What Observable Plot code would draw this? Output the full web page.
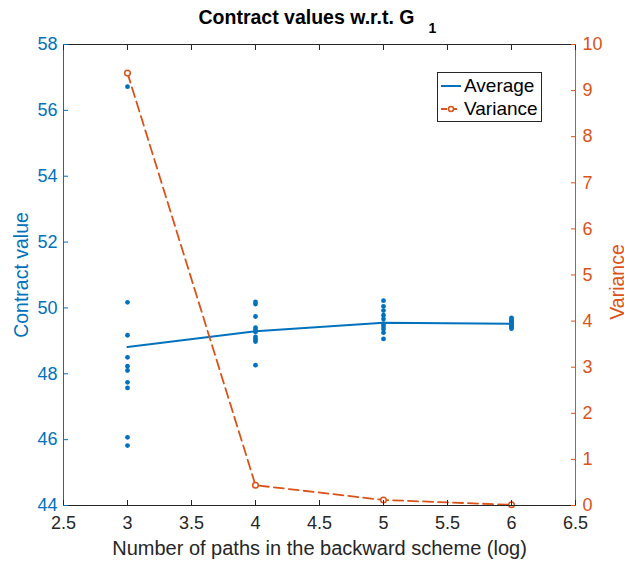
<!DOCTYPE html>
<html>
<head>
<meta charset="utf-8">
<script src="https://cdn.jsdelivr.net/npm/d3@7"></script>
<script src="https://cdn.jsdelivr.net/npm/@observablehq/plot@0.6"></script>
<style>
  body { margin: 0; background: #fff; }
  #chart { position: relative; width: 624px; height: 562px; font-family: "Liberation Sans", Arial, sans-serif; }
  #legend { position: absolute; left: 437px; top: 72px; width: 105px; height: 50px; border: 1px solid #262626; background: #fff; box-sizing: border-box; }
  #legend .row { position: absolute; left: 0; height: 22px; display: flex; align-items: center; font-size: 19px; color: #000; }
  #legend svg { display: block; margin-left: 3px; margin-right: 3px; }
</style>
</head>
<body>
<div id="chart"></div>
<script>
// Number of paths (log scale) at which the backward scheme was run
const paths = [3, 4, 5, 6];

// Individual contract values obtained at each number of paths
const valuesAt3 = [56.72, 50.17, 49.17, 48.50, 48.23, 48.10, 47.74, 47.57, 46.07, 45.82];
const valuesAt4 = [50.18, 50.12, 49.74, 49.40, 49.33, 49.27, 49.12, 49.05, 48.98, 48.26];
const valuesAt5 = [50.22, 50.05, 49.92, 49.78, 49.66, 49.52, 49.45, 49.36, 49.25, 49.06];
const valuesAt6 = [49.70, 49.66, 49.62, 49.58, 49.54, 49.51, 49.48, 49.45, 49.41, 49.37];

// Summary statistics per number of paths
const averages = [48.81, 49.29, 49.55, 49.52];
const variances = [9.38, 0.44, 0.12, 0.015];

// Tick values
const xTicks = [2.5, 3, 3.5, 4, 4.5, 5, 5.5, 6, 6.5];
const leftTicks = [44, 46, 48, 50, 52, 54, 56, 58];
const rightTicks = [0, 1, 2, 3, 4, 5, 6, 7, 8, 9, 10];

const BLUE = "#0072BD";
const ORANGE = "#D95319";
const INK = "#262626";
const FONT = "'Liberation Sans', Arial, sans-serif";

// The variance axis (0..10) shares the vertical extent of the contract axis (44..58)
const yMin = 44, yMax = 58, vMax = 10;
const varToY = v => yMin + v * (yMax - yMin) / vMax;
const yToVar = y => Math.round((y - yMin) * vMax / (yMax - yMin));

const allValues = [valuesAt3, valuesAt4, valuesAt5, valuesAt6];
const dots = paths.flatMap((p, i) => allValues[i].map(v => ({paths: p, value: v})));
const avgRows = paths.map((p, i) => ({paths: p, value: averages[i]}));
const varRows = paths.map((p, i) => ({paths: p, variance: variances[i]}));

const chart = Plot.plot({
  width: 624,
  height: 562,
  marginLeft: 63,
  marginRight: 49,
  marginTop: 44,
  marginBottom: 57,
  style: {fontFamily: FONT, fontSize: "18px", background: "#fff", color: INK},
  x: {domain: [2.5, 6.5]},
  y: {domain: [yMin, yMax]},
  marks: [
    // data
    Plot.dot(dots, {x: "paths", y: "value", r: 2.4, fill: BLUE}),
    Plot.line(avgRows, {x: "paths", y: "value", stroke: BLUE, strokeWidth: 2}),
    Plot.line(varRows, {x: "paths", y: d => varToY(d.variance), stroke: ORANGE, strokeWidth: 1.8, strokeDasharray: "10,5"}),
    Plot.dot(varRows, {x: "paths", y: d => varToY(d.variance), r: 2.8, stroke: ORANGE, strokeWidth: 1.5, fill: "#fff"}),

    // box
    Plot.ruleY([yMin, yMax], {stroke: INK, strokeWidth: 1}),
    Plot.ruleX([2.5], {stroke: BLUE, strokeWidth: 1}),
    Plot.ruleX([6.5], {stroke: ORANGE, strokeWidth: 1}),

    // axes with inward ticks
    Plot.axisX({anchor: "bottom", ticks: xTicks, tickSize: -5, tickPadding: 16, tickFormat: d => String(d), label: null, stroke: INK, fill: INK, fontSize: 18}),
    Plot.axisX({anchor: "top", ticks: xTicks, tickSize: -5, tickFormat: () => "", label: null, stroke: INK}),
    Plot.axisY({anchor: "left", ticks: leftTicks, tickSize: -5, tickPadding: 11, label: null, stroke: BLUE, fill: BLUE, fontSize: 18}),
    Plot.axisY({anchor: "right", ticks: rightTicks.map(varToY), tickSize: -5, tickPadding: 12, tickFormat: yToVar, label: null, stroke: ORANGE, fill: ORANGE, fontSize: 18}),

    // axis titles
    Plot.text(["Number of paths in the backward scheme (log)"], {frameAnchor: "bottom", dy: 43, lineAnchor: "middle", textAnchor: "middle", fill: INK, fontSize: 20}),
    Plot.text(["Contract value"], {frameAnchor: "left", dx: -41.5, rotate: -90, textAnchor: "middle", lineAnchor: "middle", fill: BLUE, fontSize: 19.5}),
    Plot.text(["Variance"], {frameAnchor: "right", dx: 35, dy: 7, rotate: -90, textAnchor: "middle", lineAnchor: "top", fill: ORANGE, fontSize: 19.5}),

    // chart title with subscript
    Plot.text(["Contract values w.r.t. G"], {frameAnchor: "top", dx: 95, dy: -27, textAnchor: "end", lineAnchor: "middle", fontWeight: "bold", fill: "#000", fontSize: 19.5}),
    Plot.text(["1"], {frameAnchor: "top", dx: 109, dy: -16, textAnchor: "start", lineAnchor: "middle", fontWeight: "bold", fill: "#000", fontSize: 14})
  ]
});

const root = document.getElementById("chart");
root.appendChild(chart);

// legend
const legend = document.createElement("div");
legend.id = "legend";
legend.innerHTML = `
  <div class="row" style="top:2px">
    <svg width="20" height="10"><line x1="0" y1="5" x2="20" y2="5" stroke="${BLUE}" stroke-width="2"/></svg>
    <span>Average</span>
  </div>
  <div class="row" style="top:25px">
    <svg width="20" height="10"><line x1="0" y1="5" x2="20" y2="5" stroke="${ORANGE}" stroke-width="1.8" stroke-dasharray="6,4"/><circle cx="10" cy="5" r="2.5" fill="#fff" stroke="${ORANGE}" stroke-width="1.5"/></svg>
    <span>Variance</span>
  </div>`;
root.appendChild(legend);
</script>
</body>
</html>
